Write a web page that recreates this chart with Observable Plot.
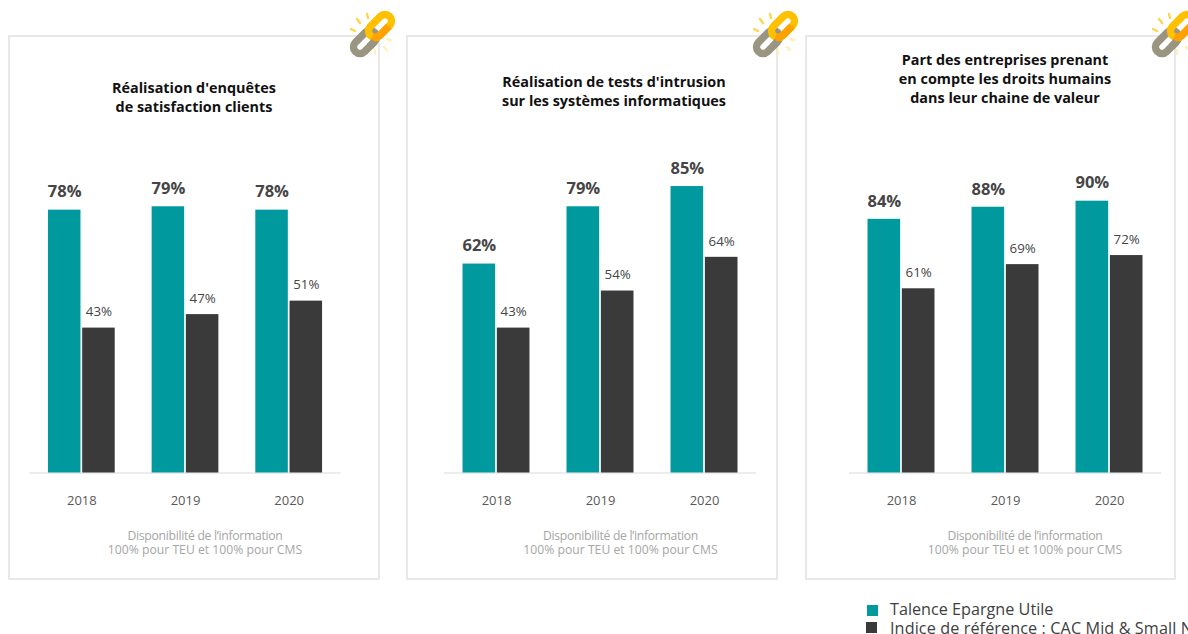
<!DOCTYPE html>
<html lang="fr">
<head>
<meta charset="utf-8">
<script src="https://cdn.jsdelivr.net/npm/d3@7"></script>
<script src="https://cdn.jsdelivr.net/npm/@observablehq/plot@0.6"></script>
<style>
html,body{margin:0;padding:0;background:#fff;}
#page{position:relative;width:1188px;height:634px;overflow:hidden;font-family:"Open Sans",sans-serif;}
.panel{position:absolute;top:35px;height:545px;box-sizing:border-box;border:2px solid #e8e8e8;background:#fff;}
.chart{position:absolute;top:35px;}
.chart svg{display:block;overflow:visible;background:transparent;}
.title{position:absolute;font-weight:700;font-size:14.4px;line-height:19px;color:#111;text-align:center;white-space:nowrap;transform:translateX(-50%);}
.note{position:absolute;top:529px;font-size:12.2px;line-height:14px;color:#a6a6a6;text-align:center;white-space:nowrap;transform:translateX(-50%);}
.note span{letter-spacing:-0.3px;}
.icon{position:absolute;top:10px;width:50px;height:50px;}
.legend{position:absolute;left:890px;font-size:16.2px;line-height:18px;color:#404040;white-space:nowrap;}
.swatch{position:absolute;width:11px;height:11px;}
</style>
</head>
<body>
<div id="page"></div>
<script>
const years = ["2018", "2019", "2020"];
const seriesNames = ["Talence Epargne Utile", "Indice de référence : CAC Mid & Small NR"];
const enquetesTalence = [78, 79, 78];
const enquetesIndice = [43, 47, 51];
const intrusionTalence = [62, 79, 85];
const intrusionIndice = [43, 54, 64];
const droitsTalence = [84, 88, 90];
const droitsIndice = [61, 69, 72];
const titles = [
  ["Réalisation d'enquêtes", "de satisfaction clients"],
  ["Réalisation de tests d'intrusion", "sur les systèmes informatiques"],
  ["Part des entreprises prenant", "en compte les droits humains", "dans leur chaine de valeur"]
];
const noteLines = ["Disponibilité de l’information", "100% pour TEU et 100% pour CMS"];
const colors = ["#009a9e", "#3a3a3a"];

const layouts = [
  {left: 8, width: 372, marginLeft: 22, marginRight: 40, marginTop: 100.5, titleX: 194, titleTop: 78, noteX: 205, iconX: 348},
  {left: 406, width: 372, marginLeft: 38.5, marginRight: 22.5, marginTop: 100.5, titleX: 614, titleTop: 72, noteX: 620.5, iconX: 751},
  {left: 805, width: 371, marginLeft: 44.5, marginRight: 15.5, marginTop: 135.5, titleX: 1005, titleTop: 50, noteX: 1025, iconX: 1150}
];
const values = [
  [enquetesTalence, enquetesIndice],
  [intrusionTalence, intrusionIndice],
  [droitsTalence, droitsIndice]
];

const page = document.getElementById("page");
function add(cls, css, html) {
  const d = document.createElement("div");
  d.className = cls;
  Object.assign(d.style, css);
  if (html !== undefined) d.innerHTML = html;
  page.appendChild(d);
  return d;
}

const iconSvg = `<svg viewBox="0 0 50 50" width="50" height="50" xmlns="http://www.w3.org/2000/svg">
<g stroke-linecap="round" stroke-width="2.4">
<path d="M3 19l4 2M9 9l3 4M19 4l1 4" stroke="#ffd54a"/>
<path d="M39 29l4 1M36 37l3 3M27 40l0 4" stroke="#fff0b8"/>
</g>
<g transform="translate(17 32) rotate(45)"><rect x="-6.5" y="-13.5" width="13" height="27" rx="6.5" fill="none" stroke="#9a9580" stroke-width="7.5"/></g>
<g transform="translate(32 16) rotate(45)">
<rect x="-6.5" y="-13.5" width="13" height="27" rx="6.5" fill="none" stroke="#ffc000" stroke-width="7.5"/>
<path d="M6.5 -6 V7 A6.5 6.5 0 0 1 2 13" fill="none" stroke="#ffa200" stroke-width="7.5"/>
</g>
<g transform="translate(17 32) rotate(45)"><path d="M6.5 0 V-7" fill="none" stroke="#9a9580" stroke-width="7.5"/></g>
</svg>`;

layouts.forEach((l, i) => {
  add("panel", {left: l.left + "px", width: l.width + "px"});
  const data = years.flatMap((year, k) => seriesNames.map((series, s) => ({year, series, value: values[i][s][k]})));
  const chart = Plot.plot({
    width: l.width,
    height: 545,
    marginLeft: l.marginLeft,
    marginRight: l.marginRight,
    marginTop: l.marginTop,
    marginBottom: 107.5,
    style: {background: "transparent", fontFamily: '"Open Sans", sans-serif'},
    fx: {domain: years, padding: 0.356, paddingOuter: 0.173, round: false, label: null},
    x: {domain: seriesNames, paddingInner: 0.05, paddingOuter: 0, round: false, axis: null},
    y: {domain: [0, 100], axis: null},
    color: {domain: seriesNames, range: colors},
    marks: [
      Plot.axisFx({anchor: "bottom", tickSize: 0, tickPadding: 23, fontSize: 13, color: "#595959", label: null}),
      Plot.ruleY(years, {fx: d => d, y: () => 0, insetLeft: -18.5, insetRight: -18.5, stroke: "#d9d9d9", strokeWidth: 1}),
      Plot.barY(data, {fx: "year", x: "series", y: "value", fill: "series"}),
      Plot.text(data.filter(d => d.series === seriesNames[0]), {
        fx: "year", x: "series", y: "value", text: d => d.value + "%",
        dy: -18, fontSize: 16.5, fontWeight: 700, fill: "#454545"
      }),
      Plot.text(data.filter(d => d.series === seriesNames[1]), {
        fx: "year", x: "series", y: "value", text: d => d.value + "%",
        dy: -16, fontSize: 13.3, fill: "#454545"
      })
    ]
  });
  const host = add("chart", {left: l.left + "px", width: l.width + "px"});
  host.appendChild(chart);
  add("title", {left: l.titleX + "px", top: l.titleTop + "px"}, titles[i].join("<br>"));
  add("note", {left: l.noteX + "px"}, `<span>${noteLines[0]}</span><br>${noteLines[1]}`);
  add("icon", {left: l.iconX + "px"}, iconSvg);
});

add("swatch", {left: "867px", top: "605px", background: colors[0]});
add("swatch", {left: "866px", top: "622px", background: colors[1]});
add("legend", {top: "599.5px"}, seriesNames[0]);
add("legend", {top: "619px", letterSpacing: "0.1px"}, seriesNames[1]);
</script>
</body>
</html>
